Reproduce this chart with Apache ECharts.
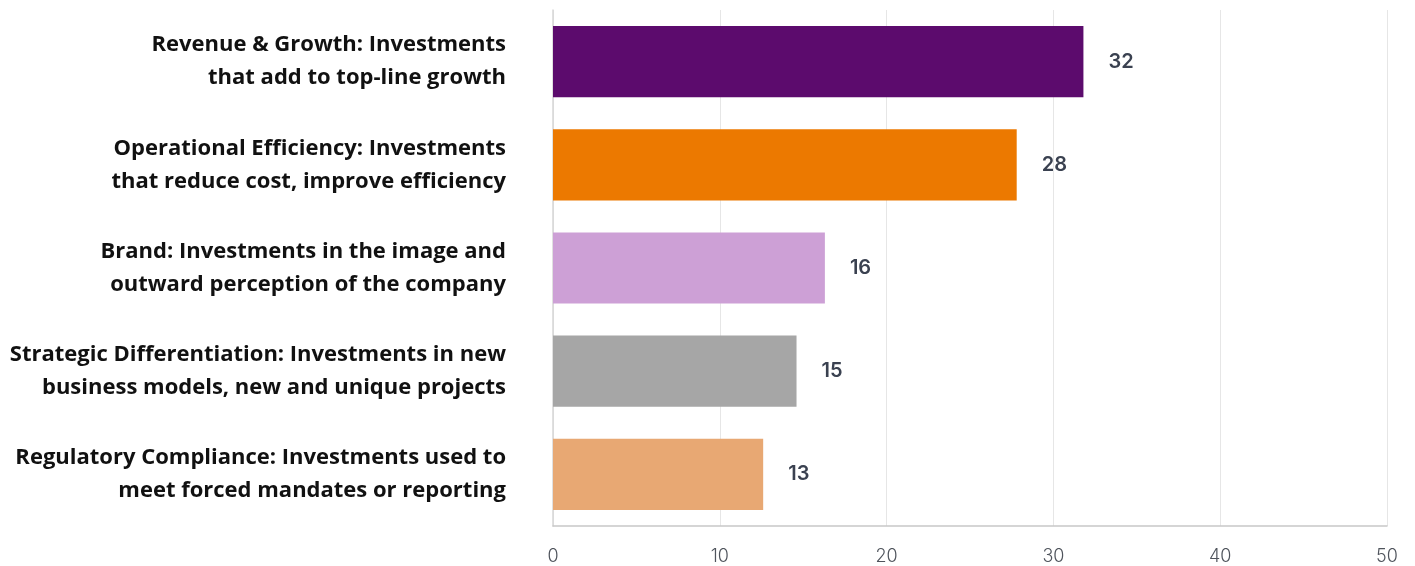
<!DOCTYPE html>
<html>
<head>
<meta charset="utf-8">
<script src="https://cdn.jsdelivr.net/npm/echarts@6/dist/echarts.min.js"></script>
<style>
html,body{margin:0;padding:0;background:#fff;}
#chart{width:1415px;height:566px;}
</style>
</head>
<body>
<div id="chart"></div>
<script>
const categories = [
  "Revenue & Growth: Investments\nthat add to top-line growth",
  "Operational Efficiency: Investments\nthat reduce cost, improve efficiency",
  "Brand: Investments in the image and\noutward perception of the company",
  "Strategic Differentiation: Investments in new\nbusiness models, new and unique projects",
  "Regulatory Compliance: Investments used to\nmeet forced mandates or reporting"
];
const values = [31.8, 27.8, 16.3, 14.6, 12.6];
const valueLabels = ["32", "28", "16", "15", "13"];
const barColors = ["#5c0b6d", "#ec7900", "#cda0d6", "#a6a6a6", "#e8a873"];
const xTicks = [0, 10, 20, 30, 40, 50];

const chart = echarts.init(document.getElementById('chart'));
chart.setOption({
  animation: false,
  grid: {left: 553, right: 28, top: 10, bottom: 40, containLabel: false},
  xAxis: {
    type: 'value', min: xTicks[0], max: xTicks[xTicks.length - 1], interval: 10,
    axisLine: {show: true, lineStyle: {color: '#c8c8c8', width: 1.5}},
    axisTick: {show: false},
    splitLine: {show: true, lineStyle: {color: '#e6e6e6', width: 1}},
    axisLabel: {color: '#4f545c', fontFamily: 'Inter', fontWeight: 300, fontSize: 18, margin: 22}
  },
  yAxis: {
    type: 'category', data: categories, inverse: true,
    axisLine: {show: true, lineStyle: {color: '#d6d6d6', width: 1.5}},
    axisTick: {show: false},
    axisLabel: {color: '#111', fontFamily: 'Open Sans', fontWeight: 'bold', fontSize: 22, lineHeight: 33, margin: 47, align: 'right'}
  },
  series: [{
    type: 'bar',
    data: values.map((v, i) => ({value: v, itemStyle: {color: barColors[i]}})),
    barCategoryGap: '31%',
    label: {
      show: true, position: 'right', distance: 25,
      formatter: p => valueLabels[p.dataIndex],
      color: '#3a4150', fontFamily: 'Inter', fontWeight: 600, fontSize: 20, padding: [3, 0, 0, 0]
    }
  }]
});
</script>
</body>
</html>
